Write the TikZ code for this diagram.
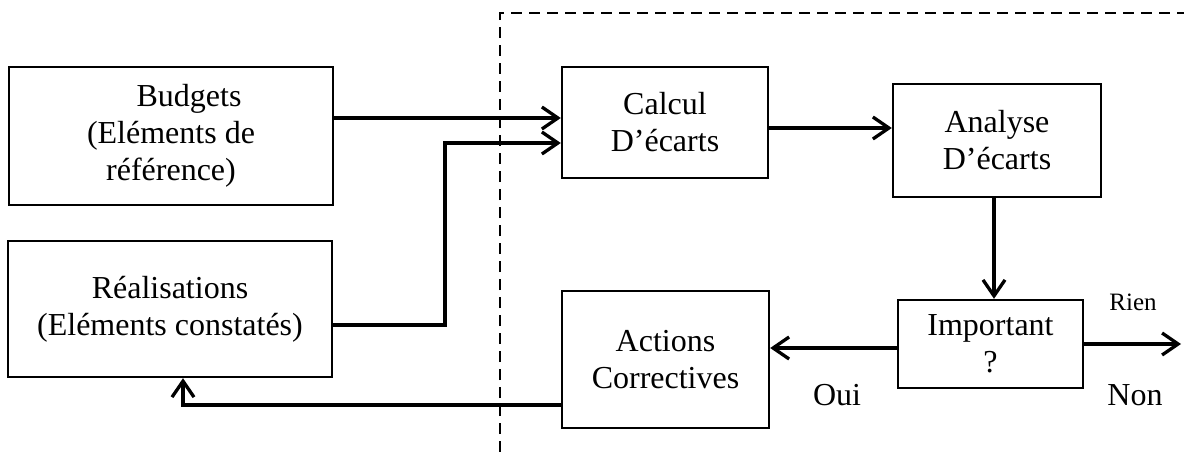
\documentclass[tikz,border=0pt]{standalone}
\usepackage{fontspec}
\setmainfont{Liberation Serif}
\usetikzlibrary{arrows.meta}
\begin{document}
\begin{tikzpicture}[x=1pt,y=-1pt,
  box/.style={draw,line width=2.4pt,align=center,inner sep=0pt,
    font=\fontsize{32}{37}\selectfont},
  arr/.style={line width=3.3pt,-{Straight Barb[length=16pt,width=22pt]}},
  sep/.style={line width=2.2pt,dash pattern=on 11pt off 7pt},
  lab/.style={font=\fontsize{32}{37}\selectfont,inner sep=0pt}]
\useasboundingbox (0,0) rectangle (1184,452);

% boxes
\node[box,minimum width=324pt,minimum height=138pt] (budget) at (171,136)
  {\hspace*{36pt}Budgets\\(Eléments de\\référence)};
\node[box,minimum width=324pt,minimum height=136pt] (real) at (170,309)
  {Réalisations\\(Eléments constatés)};
\node[box,minimum width=206pt,minimum height=111pt] (calc) at (665,122.5)
  {Calcul\\D’écarts};
\node[box,minimum width=208pt,minimum height=113pt] (anal) at (997,140.5)
  {Analyse\\D’écarts};
\node[box,minimum width=185pt,minimum height=88pt] (imp) at (990.5,344)
  {Important\\?};
\node[box,minimum width=207pt,minimum height=137pt] (act) at (665.5,359.5)
  {Actions\\Correctives};

% boundary of the control loop
\draw[sep] (500,452) -- (500,13) -- (1184,13);

% helper points
\coordinate (bend) at (445,143);
\coordinate (out) at (1181,343);

% connectors
\draw[arr] ([yshift=18pt]budget.east) -- ([yshift=4.5pt]calc.west);
\draw[arr] ([yshift=-16pt]real.east) -| (bend) -- ([yshift=-20.5pt]calc.west);
\draw[arr] ([yshift=-5.5pt]calc.east) -- ([yshift=-5.5pt]calc.east -| anal.west);
\draw[arr] ([xshift=-3pt]anal.south) -- ([xshift=-3pt]anal.south |- imp.north);
\draw[arr] ([yshift=-4pt]imp.west) -- ([yshift=-4pt]imp.west -| act.east);
\draw[arr] (imp.east) -- (imp.east -| out);
\draw[arr] ([yshift=-45.5pt]act.west) -| ([xshift=13pt]real.south);

% branch labels
\node[lab,font=\fontsize{25}{30}\selectfont] (rien) at (1133,302) {Rien};
\node[lab] (oui) at (837,395) {Oui};
\node[lab] (non) at (1135,395) {Non};
\end{tikzpicture}
\end{document}
